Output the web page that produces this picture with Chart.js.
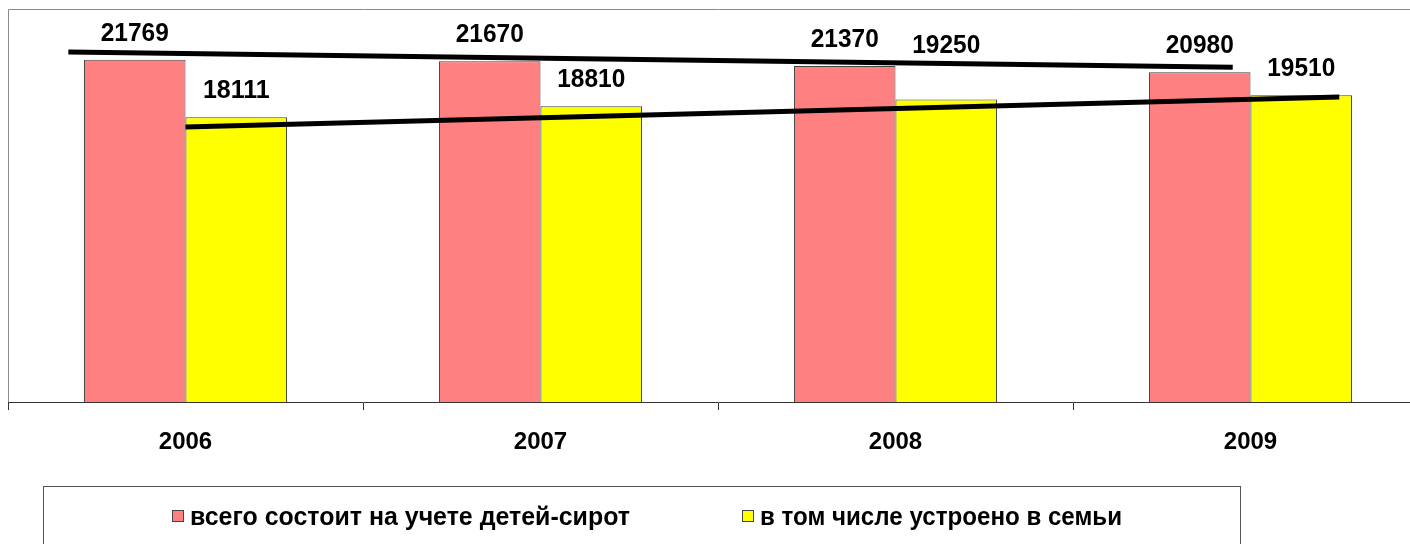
<!DOCTYPE html>
<html>
<head>
<meta charset="utf-8">
<script src="https://cdn.jsdelivr.net/npm/chart.js@4.4.1/dist/chart.umd.min.js"></script>
<style>
  html, body { margin: 0; padding: 0; background: #fff; overflow: hidden; }
  canvas { display: block; }
</style>
</head>
<body>
<canvas id="chart" width="1430" height="544"></canvas>
<script>
const years = ['2006', '2007', '2008', '2009'];
const totalOrphans = [21769, 21670, 21370, 20980];
const placedInFamilies = [18111, 18810, 19250, 19510];

// trend lines, x in category units (0 = 2006 ... 3 = 2009)
const trendTotalX = [-0.33, 2.95];
const trendTotalY = [22260, 21300];
const trendPlacedX = [0.0, 3.25];
const trendPlacedY = [17490, 19400];

const seriesNames = ['всего состоит на учете детей-сирот', 'в том числе устроено в семьи'];
const FONT = '"Liberation Sans", Arial, sans-serif';

const toPoints = (xs, ys) => xs.map((x, i) => ({ x, y: ys[i] }));

// plot area frame (top and left edges are visible, bottom is the axis line)
const frame = {
  id: 'frame',
  beforeDatasetsDraw(chart) {
    const { ctx, chartArea: a } = chart;
    ctx.save();
    ctx.strokeStyle = '#8a8a8a';
    ctx.lineWidth = 1;
    ctx.beginPath();
    ctx.moveTo(a.left + 0.5, a.bottom);
    ctx.lineTo(a.left + 0.5, a.top + 0.5);
    ctx.lineTo(a.right, a.top + 0.5);
    ctx.stroke();
    ctx.restore();
  }
};

// value labels above the bars
const valueLabels = {
  id: 'valueLabels',
  afterDatasetsDraw(chart) {
    const { ctx } = chart;
    ctx.save();
    ctx.font = 'bold 25px ' + FONT;
    ctx.fillStyle = '#000';
    ctx.textAlign = 'center';
    ctx.textBaseline = 'middle';
    chart.data.datasets.forEach((ds, di) => {
      if (ds.type === 'line') return;
      chart.getDatasetMeta(di).data.forEach((bar, i) => {
        // the 2008 "placed" label sits higher in the original
        const lift = (di === 1 && i === 2) ? 27 : 0;
        ctx.fillText(String(ds.data[i]), bar.x, bar.y - 26 - lift, 68);
      });
    });
    ctx.restore();
  }
};

// boxed legend at the bottom
const boxLegend = {
  id: 'boxLegend',
  afterDraw(chart) {
    const { ctx } = chart;
    const items = [
      { x: 172, w: 440 },
      { x: 742, w: 362 }
    ];
    ctx.save();
    ctx.strokeStyle = '#555';
    ctx.lineWidth = 1;
    ctx.strokeRect(43.5, 486.5, 1197, 80);
    ctx.font = 'bold 25px ' + FONT;
    ctx.textBaseline = 'middle';
    ctx.textAlign = 'left';
    items.forEach((it, i) => {
      const ds = chart.data.datasets[i];
      ctx.fillStyle = ds.backgroundColor;
      ctx.fillRect(it.x, 510, 11, 11);
      ctx.strokeStyle = '#444';
      ctx.strokeRect(it.x + 0.5, 510.5, 11, 11);
      ctx.fillStyle = '#000';
      ctx.fillText(ds.label, it.x + 18, 518, it.w);
    });
    ctx.restore();
  }
};

new Chart(document.getElementById('chart'), {
  type: 'bar',
  data: {
    labels: years,
    datasets: [
      {
        type: 'bar',
        label: seriesNames[0],
        data: totalOrphans,
        backgroundColor: '#FF8080',
        borderColor: '#444',
        borderWidth: 1,
        categoryPercentage: 0.572,
        barPercentage: 1,
        order: 2
      },
      {
        type: 'bar',
        label: seriesNames[1],
        data: placedInFamilies,
        backgroundColor: '#FFFF00',
        borderColor: '#444',
        borderWidth: 1,
        categoryPercentage: 0.572,
        barPercentage: 1,
        order: 2
      },
      {
        // parsing off so fractional category positions are kept
        type: 'line',
        label: 'trend1',
        data: toPoints(trendTotalX, trendTotalY),
        parsing: false,
        borderColor: '#000',
        borderWidth: 5,
        pointRadius: 0,
        fill: false,
        order: 1
      },
      {
        type: 'line',
        label: 'trend2',
        data: toPoints(trendPlacedX, trendPlacedY),
        parsing: false,
        borderColor: '#000',
        borderWidth: 5,
        pointRadius: 0,
        fill: false,
        order: 1
      }
    ]
  },
  options: {
    responsive: false,
    animation: false,
    layout: { padding: { left: 8, top: 9, right: 2, bottom: 0 } },
    plugins: {
      legend: { display: false },
      tooltip: { enabled: false }
    },
    scales: {
      x: {
        type: 'category',
        offset: true,
        min: 0,
        max: 3,
        grid: {
          offset: true,
          drawOnChartArea: false,
          drawTicks: true,
          tickLength: 8,
          color: '#333'
        },
        border: { display: true, color: '#333', width: 1 },
        ticks: {
          color: '#000',
          padding: 18,
          maxRotation: 0,
          font: { family: FONT, size: 24, weight: 'bold' }
        },
        afterFit(scale) { scale.height = 142; }
      },
      y: {
        display: false,
        min: 0,
        max: 25000
      }
    }
  },
  plugins: [frame, valueLabels, boxLegend]
});
</script>
</body>
</html>
